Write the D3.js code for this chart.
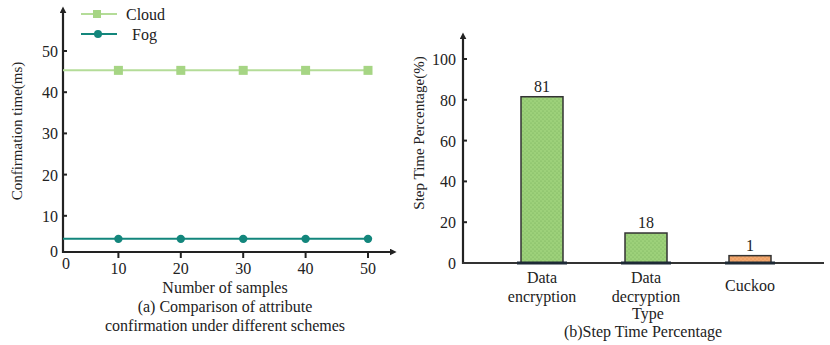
<!DOCTYPE html>
<html>
<head>
<meta charset="utf-8">
<script src="https://cdn.jsdelivr.net/npm/d3@7"></script>
<style>
  body { margin: 0; background: #fff; }
  svg text { font-family: "Liberation Serif", "Times New Roman", serif; fill: #222; }
</style>
</head>
<body>
<div id="chart"></div>
<script>
// left panel: confirmation time
var samples = [10, 20, 30, 40, 50];
var cloudTimes = [45.3, 45.3, 45.3, 45.3, 45.3];
var fogTimes = [4.4, 4.4, 4.4, 4.4, 4.4];
var leftYTicks = [10, 20, 30, 40, 50];

// right panel: step time percentage
var steps = ["Data encryption", "Data decryption", "Cuckoo"];
var stepHeights = [81.5, 14.7, 3.6];
var stepLabels = ["81", "18", "1"];
var rightYTicks = [0, 20, 40, 60, 80, 100];

var W = 830, H = 345;
var svg = d3.select("#chart").append("svg")
    .attr("width", W)
    .attr("height", H);

var defs = svg.append("defs");
function addArrow(id) {
    defs.append("marker")
        .attr("id", id)
        .attr("viewBox", "0 0 10 10")
        .attr("refX", 2).attr("refY", 5)
        .attr("markerWidth", 7).attr("markerHeight", 7)
        .attr("markerUnits", "userSpaceOnUse")
        .attr("orient", "auto")
        .append("path")
        .attr("d", "M0,0 L10,5 L0,10 Z")
        .attr("fill", "#222");
}
addArrow("arr");

function addDots(id, bg, dot) {
    var p = defs.append("pattern")
        .attr("id", id)
        .attr("width", 4).attr("height", 4)
        .attr("patternUnits", "userSpaceOnUse");
    p.append("rect").attr("width", 4).attr("height", 4).attr("fill", bg);
    p.append("circle").attr("cx", 1).attr("cy", 1).attr("r", 0.6).attr("fill", dot);
    p.append("circle").attr("cx", 3).attr("cy", 3).attr("r", 0.6).attr("fill", dot);
}
addDots("dotsGreen", "#9dd17a", "#74ad58");
addDots("dotsOrange", "#f2a86f", "#d98444");

// ---------------- left chart ----------------
var lx0 = 63, ly0 = 252;
var x = d3.scaleLinear().domain([0, 50]).range([56, 368]);
var y = d3.scaleLinear().domain([0, 50]).range([257, 51]);

var left = svg.append("g");

// axes
left.append("line")
    .attr("x1", lx0).attr("y1", ly0 + 1).attr("x2", lx0).attr("y2", 12)
    .attr("stroke", "#222").attr("stroke-width", 2.2)
    .attr("marker-end", "url(#arr)");
left.append("line")
    .attr("x1", lx0 - 1).attr("y1", ly0).attr("x2", 391).attr("y2", ly0)
    .attr("stroke", "#222").attr("stroke-width", 2.2)
    .attr("marker-end", "url(#arr)");

left.selectAll(".yt").data(leftYTicks).enter().append("line")
    .attr("x1", lx0).attr("x2", lx0 + 4)
    .attr("y1", function(d) { return y(d); })
    .attr("y2", function(d) { return y(d); })
    .attr("stroke", "#222").attr("stroke-width", 2);
left.selectAll(".ytl").data([0].concat(leftYTicks)).enter().append("text")
    .attr("x", 58)
    .attr("y", function(d) { return d === 0 ? ly0 + 5 : y(d) + 6; })
    .attr("text-anchor", "end")
    .attr("font-size", 16)
    .text(function(d) { return d; });

left.selectAll(".xt").data(samples).enter().append("line")
    .attr("x1", function(d) { return x(d); })
    .attr("x2", function(d) { return x(d); })
    .attr("y1", ly0).attr("y2", ly0 + 6)
    .attr("stroke", "#222").attr("stroke-width", 2);
left.selectAll(".xtl").data([0].concat(samples)).enter().append("text")
    .attr("x", function(d) { return d === 0 ? 66 : x(d); })
    .attr("y", function(d) { return d === 0 ? 269 : 274; })
    .attr("text-anchor", "middle")
    .attr("font-size", 16)
    .text(function(d) { return d; });

// lines
var line = d3.line()
    .x(function(d) { return d[0]; })
    .y(function(d) { return d[1]; });

var cloudPts = [[lx0, y(cloudTimes[0])]].concat(samples.map(function(s, i) { return [x(s), y(cloudTimes[i])]; }));
var fogPts = [[lx0, y(fogTimes[0])]].concat(samples.map(function(s, i) { return [x(s), y(fogTimes[i])]; }));

left.append("path").attr("d", line(cloudPts))
    .attr("fill", "none").attr("stroke", "#b4dc98").attr("stroke-width", 2);
left.append("path").attr("d", line(fogPts))
    .attr("fill", "none").attr("stroke", "#13867c").attr("stroke-width", 2);

left.selectAll(".cm").data(samples).enter().append("rect")
    .attr("x", function(d) { return x(d) - 4.5; })
    .attr("y", function(d, i) { return y(cloudTimes[i]) - 4.5; })
    .attr("width", 9).attr("height", 9)
    .attr("fill", "#a6d584");
left.selectAll(".fm").data(samples).enter().append("circle")
    .attr("cx", function(d) { return x(d); })
    .attr("cy", function(d, i) { return y(fogTimes[i]); })
    .attr("r", 4.2)
    .attr("fill", "#13867c");

// legend
var lg = left.append("g");
lg.append("line").attr("x1", 81).attr("x2", 117).attr("y1", 14).attr("y2", 14)
    .attr("stroke", "#b4dc98").attr("stroke-width", 2);
lg.append("rect").attr("x", 93).attr("y", 10).attr("width", 8).attr("height", 8).attr("fill", "#a6d584");
lg.append("text").attr("x", 126).attr("y", 20).attr("font-size", 16).text("Cloud");
lg.append("line").attr("x1", 81).attr("x2", 117).attr("y1", 34).attr("y2", 34)
    .attr("stroke", "#13867c").attr("stroke-width", 2);
lg.append("circle").attr("cx", 98).attr("cy", 34).attr("r", 4).attr("fill", "#13867c");
lg.append("text").attr("x", 132).attr("y", 40).attr("font-size", 16).text("Fog");

left.append("text")
    .attr("transform", "translate(22,131) rotate(-90)")
    .attr("text-anchor", "middle")
    .attr("font-size", 15)
    .text("Confirmation time(ms)");
left.append("text").attr("x", 225).attr("y", 293).attr("text-anchor", "middle")
    .attr("font-size", 16).text("Number of samples");
left.append("text").attr("x", 225).attr("y", 312).attr("text-anchor", "middle")
    .attr("font-size", 16).text("(a) Comparison of attribute");
left.append("text").attr("x", 225).attr("y", 331).attr("text-anchor", "middle")
    .attr("font-size", 16).text("confirmation under different schemes");

// ---------------- right chart ----------------
var rx0 = 463, ry0 = 263;
var xb = d3.scaleBand().domain(steps).range([490, 802]).padding(0);
var yb = d3.scaleLinear().domain([0, 100]).range([ry0, 59]);

var right = svg.append("g");

right.append("line")
    .attr("x1", rx0).attr("y1", ry0 + 1).attr("x2", rx0).attr("y2", 38)
    .attr("stroke", "#222").attr("stroke-width", 2.2)
    .attr("marker-end", "url(#arr)");
right.append("line")
    .attr("x1", rx0 - 1).attr("y1", ry0).attr("x2", 824).attr("y2", ry0)
    .attr("stroke", "#333").attr("stroke-width", 2);

right.selectAll(".yt").data(rightYTicks.slice(1)).enter().append("line")
    .attr("x1", rx0).attr("x2", rx0 + 4)
    .attr("y1", function(d) { return yb(d); })
    .attr("y2", function(d) { return yb(d); })
    .attr("stroke", "#222").attr("stroke-width", 2);
right.selectAll(".ytl").data(rightYTicks).enter().append("text")
    .attr("x", 456)
    .attr("y", function(d) { return yb(d) + 6; })
    .attr("text-anchor", "end")
    .attr("font-size", 16)
    .text(function(d) { return d; });

var xbw = 42;
function barX(d) { return xb(d) + xb.bandwidth() / 2 - xbw / 2; }

right.selectAll(".bar").data(steps).enter().append("rect")
    .attr("x", barX)
    .attr("y", function(d, i) { return yb(stepHeights[i]); })
    .attr("width", xbw)
    .attr("height", function(d, i) { return ry0 - yb(stepHeights[i]); })
    .attr("fill", function(d, i) { return i === 2 ? "url(#dotsOrange)" : "url(#dotsGreen)"; })
    .attr("stroke", "#333").attr("stroke-width", 1.5);

right.selectAll(".base").data(steps).enter().append("rect")
    .attr("x", function(d) { return barX(d) - 4; })
    .attr("y", ry0 - 1.5)
    .attr("width", xbw + 8)
    .attr("height", 3)
    .attr("fill", "#1e2a36");

right.selectAll(".vl").data(steps).enter().append("text")
    .attr("x", function(d) { return barX(d) + xbw / 2; })
    .attr("y", function(d, i) { return yb(stepHeights[i]) - 5; })
    .attr("text-anchor", "middle")
    .attr("font-size", 16)
    .text(function(d, i) { return stepLabels[i]; });

right.selectAll(".xl").data(steps).enter().append("text")
    .attr("x", function(d) { return barX(d) + xbw / 2; })
    .attr("y", function(d) { return d.indexOf(" ") > 0 ? 283 : 291; })
    .attr("text-anchor", "middle")
    .attr("font-size", 16)
    .each(function(d) {
        var parts = d.split(" ");
        var t = d3.select(this);
        parts.forEach(function(p, k) {
            t.append("tspan")
                .attr("x", t.attr("x"))
                .attr("dy", k === 0 ? 0 : 19)
                .text(p);
        });
    });

right.append("text")
    .attr("transform", "translate(424,133) rotate(-90)")
    .attr("text-anchor", "middle")
    .attr("font-size", 15)
    .text("Step Time Percentage(%)");
right.append("text").attr("x", 648).attr("y", 319).attr("text-anchor", "middle")
    .attr("font-size", 16).text("Type");
right.append("text").attr("x", 643).attr("y", 337).attr("text-anchor", "middle")
    .attr("font-size", 16).text("(b)Step Time Percentage");
</script>
</body>
</html>
